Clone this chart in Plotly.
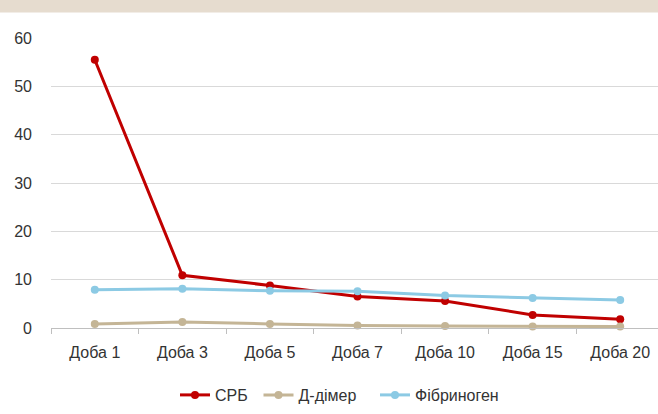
import plotly.graph_objects as go

categories = ["Доба 1", "Доба 3", "Доба 5", "Доба 7", "Доба 10", "Доба 15", "Доба 20"]
crp = [55.5, 10.9, 8.8, 6.5, 5.6, 2.7, 1.8]
d_dimer = [0.85, 1.25, 0.85, 0.5, 0.4, 0.3, 0.3]
fibrinogen = [7.9, 8.1, 7.7, 7.6, 6.7, 6.2, 5.8]
y_ticks = [0, 10, 20, 30, 40, 50, 60]

series = [
    ("СРБ", crp, "#C00000"),
    ("Д-дімер", d_dimer, "#C4B596"),
    ("Фібриноген", fibrinogen, "#8CCAE4"),
]

W, H = 658, 414
L, R, T, B = 51, 0, 38, 86
plot_w = W - L - R
cat_w = 87.57
x_end = -0.5 + plot_w / cat_w
plot_h = H - T - B

legend_names = ["legend", "legend2", "legend3"]
legend_x = [175, 258.5, 375]

fig = go.Figure()
for (name, vals, color), lg in zip(series, legend_names):
    fig.add_trace(go.Scatter(
        x=categories, y=vals, name=name, mode="lines+markers",
        line=dict(color=color, width=3),
        marker=dict(color=color, size=8),
        cliponaxis=False, legend=lg,
    ))

layout_legends = {}
for lg, lx in zip(legend_names, legend_x):
    layout_legends[lg] = dict(
        orientation="h", xref="container", yref="container",
        x=lx / W, xanchor="left", y=19 / H, yanchor="middle",
        font=dict(size=16, color="#333333"), bgcolor="rgba(0,0,0,0)",
        itemwidth=30,
    )

fig.update_layout(
    width=W, height=H,
    margin=dict(l=L, r=R, t=T, b=B, autoexpand=False),
    paper_bgcolor="white", plot_bgcolor="white",
    font=dict(family="Liberation Sans, Arial, sans-serif", size=16, color="#333333"),
    showlegend=True,
    xaxis=dict(
        type="category", range=[-0.5, x_end], automargin=False,
        showgrid=False, showline=True, linecolor="#BFBFBF", linewidth=1,
        ticks="outside", ticklen=5, tickcolor="#BFBFBF", tickson="boundaries",
        ticklabelstandoff=10, fixedrange=True,
    ),
    yaxis=dict(
        range=[0, 60], tickvals=y_ticks, showgrid=True, gridcolor="#D9D9D9",
        gridwidth=1, zeroline=False, showline=False, ticks="", automargin=False,
        ticklabelstandoff=18, fixedrange=True,
    ),
    shapes=[dict(
        type="rect", xref="paper", yref="paper",
        x0=(0 - L) / plot_w, x1=(W + 5 - L) / plot_w,
        y0=1 + (T - 12.5) / plot_h, y1=1 + (T + 2) / plot_h,
        fillcolor="#E6DCCF", line=dict(width=0), layer="above",
    )],
    **layout_legends,
)

fig.write_html(
    "out.html",
    config={"displayModeBar": False},
    post_script="document.body.style.margin='0';document.body.style.overflow='hidden';",
)
